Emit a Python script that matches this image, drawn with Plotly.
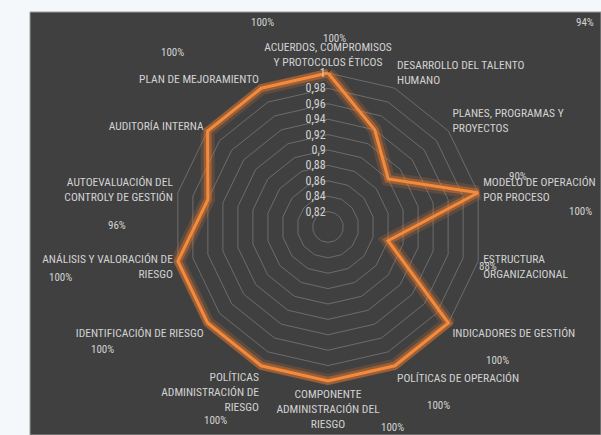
import plotly.graph_objects as go

categories = [
    "ACUERDOS, COMPROMISOS<br>Y PROTOCOLOS ÉTICOS",
    "DESARROLLO DEL TALENTO<br>HUMANO",
    "PLANES, PROGRAMAS Y<br>PROYECTOS",
    "MODELO DE OPERACIÓN<br>POR PROCESO",
    "ESTRUCTURA<br>ORGANIZACIONAL",
    "INDICADORES DE GESTIÓN",
    "POLÍTICAS DE OPERACIÓN",
    "COMPONENTE<br>ADMINISTRACIÓN DEL<br>RIESGO",
    "POLÍTICAS<br>ADMINISTRACIÓN DE<br>RIESGO",
    "IDENTIFICACIÓN DE RIESGO",
    "ANÁLISIS Y VALORACIÓN DE<br>RIESGO",
    "AUTOEVALUACIÓN DEL<br>CONTROLY DE GESTIÓN",
    "AUDITORÍA INTERNA",
    "PLAN DE MEJORAMIENTO",
]
values = [1.00, 0.94, 0.90, 1.00, 0.88, 1.00, 1.00, 1.00, 1.00, 1.00, 1.00, 0.96, 1.00, 1.00]
radial_ticks = [0.82, 0.84, 0.86, 0.88, 0.90, 0.92, 0.94, 0.96, 0.98, 1.00]

# data-label placement (pixel centres, as Excel scattered them)
label_pos = [(335, 38), (585, 22), (518, 177), (580, 212), (488, 266), (497, 360),
             (438, 405), (392, 427), (215, 420), (103, 349), (60, 277), (117, 225),
             (172, 53), (262, 22)]

W, H = 601, 435
R_MIN, R_MAX = 0.8, 1.006
cx, cy = 328, 227
R = 154 * (R_MAX - R_MIN) / 0.2
FONT = "Liberation Sans Narrow, Arial Narrow, Roboto Condensed, Liberation Sans, sans-serif"
TXT = "#d2d2d2"

theta = categories + [categories[0]]
r = values + [values[0]]

fig = go.Figure()
fig.add_trace(go.Scatterpolar(r=r, theta=theta, mode="lines",
                              line=dict(color="rgba(237,125,49,0.18)", width=14),
                              hoverinfo="skip", showlegend=False))
fig.add_trace(go.Scatterpolar(r=r, theta=theta, mode="lines",
                              line=dict(color="rgba(237,125,49,0.40)", width=8),
                              hoverinfo="skip", showlegend=False))
fig.add_trace(go.Scatterpolar(r=r, theta=theta, mode="lines",
                              line=dict(color="#F58A3A", width=3),
                              showlegend=False))

annotations = []
for v, (x, y) in zip(values, label_pos):
    annotations.append(dict(x=x / W, y=1 - y / H, xref="paper", yref="paper",
                            text=f"{round(v * 100)}%", showarrow=False,
                            font=dict(family=FONT, size=11, color=TXT),
                            xanchor="center", yanchor="middle"))

fig.update_layout(
    width=W, height=H,
    margin=dict(l=0, r=0, t=0, b=0),
    paper_bgcolor="#f5f8fb",
    separators=", ",
    font=dict(family=FONT, color=TXT, size=12),
    shapes=[dict(type="rect", xref="paper", yref="paper",
                 x0=30 / W, x1=1.0, y0=0, y1=1 - 12 / H,
                 fillcolor="#404040", line=dict(color="#9a9a9a", width=1), layer="below")],
    annotations=annotations,
    polar=dict(
        domain=dict(x=[(cx - R) / W, (cx + R) / W], y=[1 - (cy + R) / H, 1 - (cy - R) / H]),
        bgcolor="rgba(0,0,0,0)",
        gridshape="linear",
        radialaxis=dict(range=[R_MIN, R_MAX], tickvals=radial_ticks, angle=90, tickangle=90,
                        side="counterclockwise", showline=False, ticks="",
                        gridcolor="#6c6c6c", gridwidth=1,
                        tickfont=dict(family=FONT, size=12, color=TXT)),
        angularaxis=dict(direction="clockwise", rotation=90, showgrid=False,
                         showline=False, ticks="",
                         tickfont=dict(family=FONT, size=11.5, color=TXT)),
    ),
)

fig.write_html("out.html", config={"displayModeBar": False},
               post_script="document.body.style.margin='0';")
